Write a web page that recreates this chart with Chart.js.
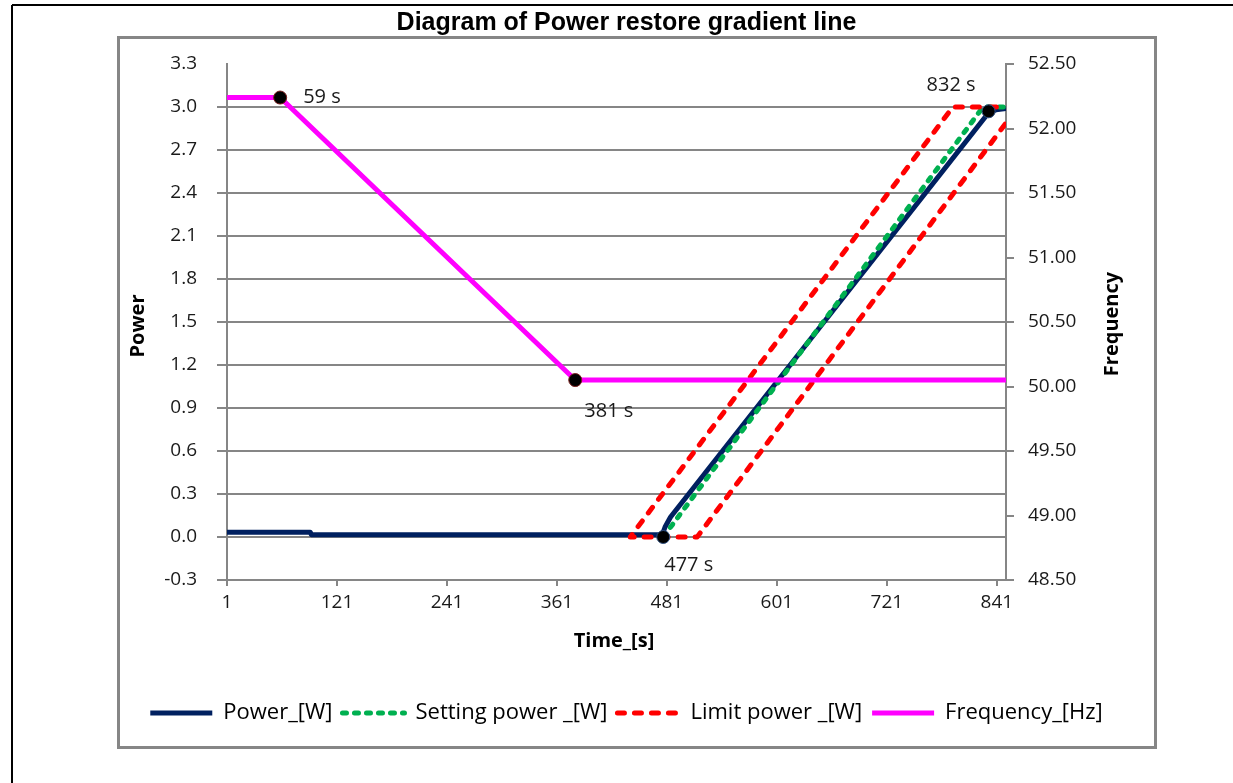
<!DOCTYPE html>
<html>
<head>
<meta charset="utf-8">
<title>Diagram of Power restore gradient line</title>
<script src="https://cdn.jsdelivr.net/npm/chart.js@4/dist/chart.umd.min.js"></script>
<style>
  html, body { margin: 0; padding: 0; background: #ffffff; }
  canvas { display: block; }
</style>
</head>
<body>
<canvas id="c" width="1233" height="783"></canvas>
<script>
// ---- data ----
const timeTicks = [1, 121, 241, 361, 481, 601, 721, 841];
const powerTicks = [-0.3, 0, 0.3, 0.6, 0.9, 1.2, 1.5, 1.8, 2.1, 2.4, 2.7, 3.0, 3.3];
const freqTicks = [48.5, 49.0, 49.5, 50.0, 50.5, 51.0, 51.5, 52.0, 52.5];

const powerTime = [1, 92, 93, 476, 479, 485, 832, 840, 851];
const powerValues = [0.033, 0.033, 0.016, 0.016, 0.07, 0.14, 2.96, 2.98, 2.99];

const settingTime = [477, 826, 851];
const settingValues = [0.0, 3.0, 3.0];

const limitTime = [850, 514, 441, 793, 851];
const limitValues = [2.88, 0.0, 0.0, 3.0, 3.0];

const freqTime = [1, 59, 381, 851];
const freqValues = [52.24, 52.24, 50.05, 50.05];

const powerMarkTime = [477, 832];
const powerMarkValues = [0.0, 2.97];
const freqMarkTime = [59, 381];
const freqMarkValues = [52.24, 50.05];

const seriesNames = ['Power_[W]', 'Setting power _[W]', 'Limit power _[W]', 'Frequency_[Hz]'];
const markLabels = ['59 s', '381 s', '477 s', '832 s'];

const pts = (xs, ys) => xs.map((x, i) => ({ x: x, y: ys[i] }));

const FONT = "'Open Sans', 'DejaVu Sans', sans-serif";
const GRID = '#868686';

const framePlugin = {
  id: 'frame',
  beforeDraw(chart) {
    const ctx = chart.ctx;
    ctx.save();
    ctx.fillStyle = '#ffffff';
    ctx.fillRect(0, 0, chart.width, chart.height);
    ctx.strokeStyle = '#000000';
    ctx.lineWidth = 2;
    ctx.beginPath();
    ctx.moveTo(12, 5); ctx.lineTo(1233, 5);
    ctx.moveTo(12, 5); ctx.lineTo(12, 783);
    ctx.stroke();
    ctx.strokeStyle = GRID;
    ctx.lineWidth = 3;
    ctx.strokeRect(118.5, 37.5, 1037, 710);
    ctx.restore();
  }
};

const textPlugin = {
  id: 'texts',
  afterDraw(chart) {
    const ctx = chart.ctx;
    const xs = chart.scales.x, yl = chart.scales.y, yr = chart.scales.y1;
    ctx.save();
    ctx.fillStyle = '#000';
    ctx.font = "bold 20px " + FONT;
    ctx.textAlign = 'center';
    ctx.textBaseline = 'middle';
    ctx.fillText('Time_[s]', 614, 641);
    ctx.save(); ctx.translate(138, 326); ctx.rotate(-Math.PI / 2); ctx.fillText('Power', 0, 0); ctx.restore();
    ctx.save(); ctx.translate(1112, 324); ctx.rotate(-Math.PI / 2); ctx.fillText('Frequency', 0, 0); ctx.restore();
    ctx.font = "20px " + FONT;
    ctx.fillStyle = '#1a1a1a';
    ctx.textAlign = 'left';
    const m = [
      [xs.getPixelForValue(freqMarkTime[0]), yr.getPixelForValue(freqMarkValues[0]), 23, 0],
      [xs.getPixelForValue(freqMarkTime[1]), yr.getPixelForValue(freqMarkValues[1]), 9, 31],
      [xs.getPixelForValue(powerMarkTime[0]), yl.getPixelForValue(powerMarkValues[0]), 1, 28],
      [xs.getPixelForValue(powerMarkTime[1]), yl.getPixelForValue(powerMarkValues[1]), -62, -26]
    ];
    m.forEach((p, i) => ctx.fillText(markLabels[i], p[0] + p[2], p[1] + p[3]));
    ctx.restore();
  }
};

new Chart(document.getElementById('c'), {
  type: 'line',
  data: {
    datasets: [
      { label: seriesNames[0], data: pts(powerTime, powerValues), yAxisID: 'y',
        borderColor: '#002060', backgroundColor: '#002060', borderWidth: 5, order: 4 },
      { label: seriesNames[1], data: pts(settingTime, settingValues), yAxisID: 'y',
        borderColor: '#00B050', backgroundColor: '#00B050', borderWidth: 5, borderDash: [4, 8],
        borderCapStyle: 'round', order: 3 },
      { label: seriesNames[2], data: pts(limitTime, limitValues), yAxisID: 'y',
        borderColor: '#FF0000', backgroundColor: '#FF0000', borderWidth: 5, borderDash: [7, 10],
        borderCapStyle: 'round', order: 2 },
      { label: seriesNames[3], data: pts(freqTime, freqValues), yAxisID: 'y1',
        borderColor: '#FF00FF', backgroundColor: '#FF00FF', borderWidth: 5, order: 1 },
      { label: 'mk1', data: pts(freqMarkTime, freqMarkValues), yAxisID: 'y1', showLine: false,
        pointRadius: 6.5, pointBackgroundColor: '#000', pointBorderColor: '#7a1c1c', pointBorderWidth: 1, order: 0 },
      { label: 'mk2', data: pts(powerMarkTime, powerMarkValues), yAxisID: 'y', showLine: false,
        pointRadius: 6.5, pointBackgroundColor: '#000', pointBorderColor: '#2f4f7f', pointBorderWidth: 1, order: 0 }
    ]
  },
  options: {
    responsive: false,
    animation: false,
    devicePixelRatio: 1,
    elements: {
      line: { tension: 0, borderJoinStyle: 'round' },
      point: { radius: 0, hoverRadius: 0 }
    },
    layout: { padding: { left: 20, right: 0, top: 0, bottom: 49 } },
    plugins: {
      tooltip: { enabled: false },
      title: {
        display: true,
        text: 'Diagram of Power restore gradient line',
        color: '#000',
        font: { family: "'Liberation Sans', Arial, sans-serif", size: 25, weight: 'bold', lineHeight: 1.2 },
        padding: { top: 8, bottom: 26 }
      },
      legend: {
        display: true,
        position: 'bottom',
        labels: {
          color: '#000',
          font: { family: FONT, size: 22 },
          usePointStyle: true,
          pointStyle: 'line',
          pointStyleWidth: 62,
          boxWidth: 62,
          padding: 10,
          generateLabels: (chart) => {
            const items = Chart.defaults.plugins.legend.labels.generateLabels(chart);
            return items.filter(it => it.datasetIndex < 4).map(it => {
              const ds = chart.data.datasets[it.datasetIndex];
              it.lineDash = ds.borderDash || [];
              it.lineWidth = ds.borderWidth;
              it.lineCap = ds.borderCapStyle || 'butt';
              it.strokeStyle = ds.borderColor;
              it.fillStyle = ds.borderColor;
              it.pointStyle = 'line';
              return it;
            });
          },
          sort: (a, b) => a.datasetIndex - b.datasetIndex
        }
      }
    },
    scales: {
      x: {
        type: 'linear', position: 'bottom', min: 1, max: 851,
        afterBuildTicks: (s) => { s.ticks = timeTicks.map(v => ({ value: v })); },
        afterFit: (s) => { s.height = 112; },
        grid: { drawOnChartArea: false, drawTicks: true, tickLength: 6, color: GRID, lineWidth: 2 },
        border: { display: true, color: GRID, width: 2 },
        ticks: { color: '#1a1a1a', font: { family: FONT, size: 19 }, padding: 5, maxRotation: 0, autoSkip: false }
      },
      y: {
        type: 'linear', position: 'left', min: -0.3, max: 3.3,
        afterBuildTicks: (s) => { s.ticks = powerTicks.map(v => ({ value: v })); },
        afterFit: (s) => { s.width = 207; },
        grid: {
          drawOnChartArea: true, drawTicks: true, tickLength: 10, lineWidth: 2,
          color: (c) => (c.tick && c.tick.value === 3.3) ? 'rgba(0,0,0,0)' : GRID
        },
        border: { display: true, color: GRID, width: 2 },
        ticks: { color: '#1a1a1a', font: { family: FONT, size: 19 }, padding: 20,
                 callback: (v) => Number(v).toFixed(1) }
      },
      y1: {
        type: 'linear', position: 'right', min: 48.5, max: 52.5,
        afterBuildTicks: (s) => { s.ticks = freqTicks.map(v => ({ value: v })); },
        afterFit: (s) => { s.width = 227; },
        grid: { drawOnChartArea: false, drawTicks: true, tickLength: 8, color: GRID, lineWidth: 2 },
        border: { display: true, color: GRID, width: 2 },
        ticks: { color: '#1a1a1a', font: { family: FONT, size: 19 }, padding: 14,
                 callback: (v) => Number(v).toFixed(2) }
      }
    }
  },
  plugins: [framePlugin, textPlugin]
});
</script>
</body>
</html>
